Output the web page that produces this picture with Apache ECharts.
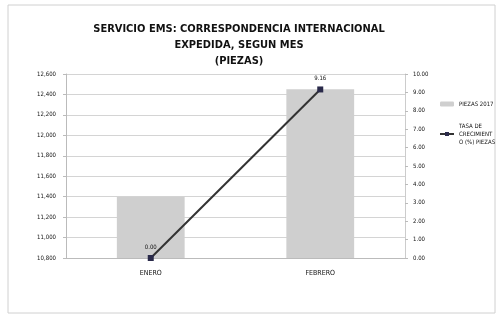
<!DOCTYPE html>
<html>
<head>
<meta charset="utf-8">
<script src="https://cdn.jsdelivr.net/npm/echarts@6/dist/echarts.min.js"></script>
<style>
  html, body { margin: 0; padding: 0; background: #fff; }
  #chart { width: 499px; height: 317px; }
</style>
</head>
<body>
<div id="chart"></div>
<script>
const months = ['ENERO', 'FEBRERO'];
const piezas2017 = [11400, 12450];
const tasaCrecimiento = [0.00, 9.16];

const font = '"Liberation Sans Narrow", "DejaVu Sans Condensed", "Liberation Sans", sans-serif';

let chart = echarts.init(document.getElementById('chart'));

chart.setOption({
    backgroundColor: '#fff',
    textStyle: { fontFamily: font },
    animation: false,
    graphic: [{
        type: 'rect',
        shape: { x: 8, y: 5, width: 487, height: 308 },
        style: { fill: 'none', stroke: '#d0d0d0', lineWidth: 1 }
    }],
    title: {
        text: 'SERVICIO EMS: CORRESPONDENCIA INTERNACIONAL\nEXPEDIDA, SEGUN MES\n(PIEZAS)',
        left: 234,
        textAlign: 'center',
        top: 16,
        textStyle: { fontSize: 11, fontWeight: 'bold', color: '#111', lineHeight: 16, fontFamily: font }
    },
    legend: {
        orient: 'vertical',
        left: 434,
        top: 95,
        itemWidth: 14,
        itemHeight: 5,
        itemGap: 14,
        textStyle: { fontSize: 6, color: '#111', lineHeight: 8, fontFamily: font },
        data: [
            { name: 'PIEZAS 2017' },
            { name: 'TASA DE\nCRECIMIENT\nO (%) PIEZAS' }
        ]
    },
    grid: { left: 66, right: 94, top: 74, bottom: 59 },
    xAxis: {
        type: 'category',
        data: months,
        axisLine: { lineStyle: { color: '#bbb' } },
        axisTick: { show: false },
        axisLabel: { fontSize: 7, color: '#111', margin: 12 }
    },
    yAxis: [
        {
            type: 'value',
            min: 10800,
            max: 12600,
            interval: 200,
            axisLine: { show: true, lineStyle: { color: '#bbb' } },
            axisTick: { show: true, length: 3, lineStyle: { color: '#bbb' } },
            axisLabel: {
                fontSize: 6, color: '#111', margin: 10,
                formatter: v => v.toLocaleString('en-US')
            },
            splitLine: { lineStyle: { color: '#d4d4d4' } }
        },
        {
            type: 'value',
            min: 0,
            max: 10,
            interval: 1,
            axisLine: { show: true, lineStyle: { color: '#ccc' } },
            axisTick: { show: true, length: 3, lineStyle: { color: '#bbb' } },
            axisLabel: {
                fontSize: 6, color: '#111', margin: 8,
                formatter: v => v.toFixed(2)
            },
            splitLine: { show: false }
        }
    ],
    series: [
        {
            name: 'PIEZAS 2017',
            type: 'bar',
            data: piezas2017,
            barWidth: '40%',
            itemStyle: { color: '#cfcfcf' }
        },
        {
            name: 'TASA DE\nCRECIMIENT\nO (%) PIEZAS',
            type: 'line',
            yAxisIndex: 1,
            data: tasaCrecimiento,
            symbol: 'rect',
            symbolSize: 6,
            lineStyle: { color: '#333', width: 2 },
            itemStyle: { color: '#2a2a4a' },
            label: {
                show: true,
                position: 'top',
                fontSize: 6,
                color: '#111',
                formatter: p => p.value.toFixed(2)
            }
        }
    ]
});
</script>
</body>
</html>
